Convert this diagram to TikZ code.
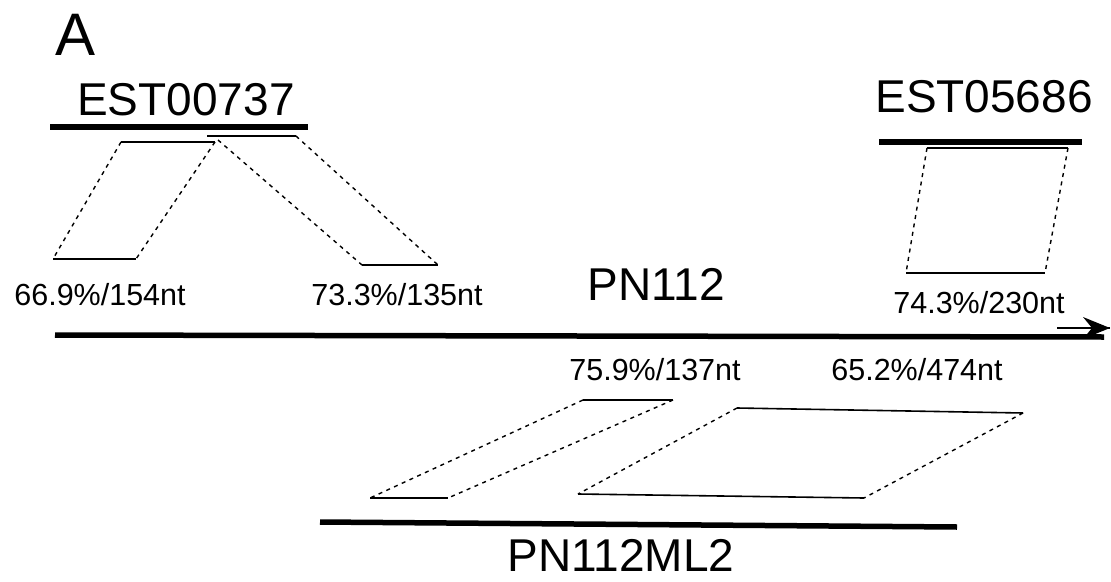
\documentclass[tikz,border=0pt]{standalone}
\usepackage{fontspec}
\setmainfont{Liberation Sans}
\usetikzlibrary{arrows.meta}
\begin{document}
\begin{tikzpicture}[x=1pt,y=-1pt,
  seqbar/.style={line width=5.5pt},
  hitline/.style={line width=1.6pt},
  hitlink/.style={line width=1.4pt,dash pattern=on 4pt off 4.5pt},
  seqname/.style={anchor=base,inner sep=0pt,font=\fontsize{46}{50}\selectfont},
  score/.style={anchor=base,inner sep=0pt,font=\fontsize{30.5}{34}\selectfont}]
\useasboundingbox (0,0) rectangle (1111,581);

\node[anchor=base,inner sep=0pt,font=\fontsize{60}{64}\selectfont] (panel) at (76,55) {A};

% EST00737 and its two hits
\node[seqname] (est1) at (186,115) {EST00737};
\coordinate (est1l) at (50,127);
\coordinate (est1r) at (308,127);
\draw[seqbar] (est1l) -- (est1r);

\coordinate (h1ta) at (121,142); \coordinate (h1tb) at (215,142);
\coordinate (h1ba) at (53,259);  \coordinate (h1bb) at (136,259);
\draw[hitline] (h1ta) -- (h1tb);
\draw[hitline] (h1ba) -- (h1bb);
\draw[hitlink] (h1ta) -- (h1ba);
\draw[hitlink] (h1tb) -- (h1bb);
\node[score] (s1) at (100,305) {66.9\%/154nt};

\coordinate (h2ta) at (207,136); \coordinate (h2tb) at (296,136);
\coordinate (h2ba) at (362,265); \coordinate (h2bb) at (438,265);
\draw[hitline] (h2ta) -- (h2tb);
\draw[hitline] (h2ba) -- (h2bb);
\draw[hitlink] (h2ta) ++(11,4) -- (h2ba);
\draw[hitlink] (h2tb) -- (h2bb);
\node[score] (s2) at (397,305) {73.3\%/135nt};

% EST05686
\node[seqname] (est2) at (984,112) {EST05686};
\coordinate (est2l) at (879,142);
\coordinate (est2r) at (1082,142);
\draw[seqbar] (est2l) -- (est2r);

\coordinate (h3ta) at (927,148); \coordinate (h3tb) at (1068,148);
\coordinate (h3ba) at (906,273); \coordinate (h3bb) at (1045,273);
\draw[hitline] (h3ta) -- (h3tb);
\draw[hitline] (h3ba) -- (h3bb);
\draw[hitlink] (h3ta) -- (h3ba);
\draw[hitlink] (h3tb) -- (h3bb);
\node[score] (s3) at (979,313) {74.3\%/230nt};

% PN112
\node[seqname] (pn) at (656,300) {PN112};
\coordinate (pnl) at (55,335);
\coordinate (pnr) at (1104,337);
\draw[seqbar] (pnl) -- (pnr);
\coordinate (dirtail) at (1057,328);
\coordinate (dirtip) at (1110,328);
\draw[line width=1.8pt] (dirtail) -- (dirtip);
\fill (dirtip) -- ++(-27,-11) -- ++(9,11) -- ++(-9,11) -- cycle;

% PN112ML2 and its two hits
\node[score] (s4) at (655,380) {75.9\%/137nt};
\node[score] (s5) at (917,380) {65.2\%/474nt};

\coordinate (h4ta) at (583,400); \coordinate (h4tb) at (673,400);
\coordinate (h4ba) at (370,498); \coordinate (h4bb) at (448,498);
\draw[hitline] (h4ta) -- (h4tb);
\draw[hitline] (h4ba) -- (h4bb);
\draw[hitlink] (h4ta) -- (h4ba);
\draw[hitlink] (h4tb) -- (h4bb);

\coordinate (h5ta) at (737,408); \coordinate (h5tb) at (1023,413);
\coordinate (h5ba) at (578,494); \coordinate (h5bb) at (864,498);
\draw[hitline] (h5ta) -- (h5tb);
\draw[hitline] (h5ba) -- (h5bb);
\draw[hitlink] (h5ta) -- (h5ba);
\draw[hitlink] (h5tb) -- (h5bb);

\coordinate (mll) at (320,522);
\coordinate (mlr) at (957,527);
\draw[seqbar] (mll) -- (mlr);
\node[seqname] (ml) at (621,571) {PN112ML2};
\end{tikzpicture}
\end{document}
